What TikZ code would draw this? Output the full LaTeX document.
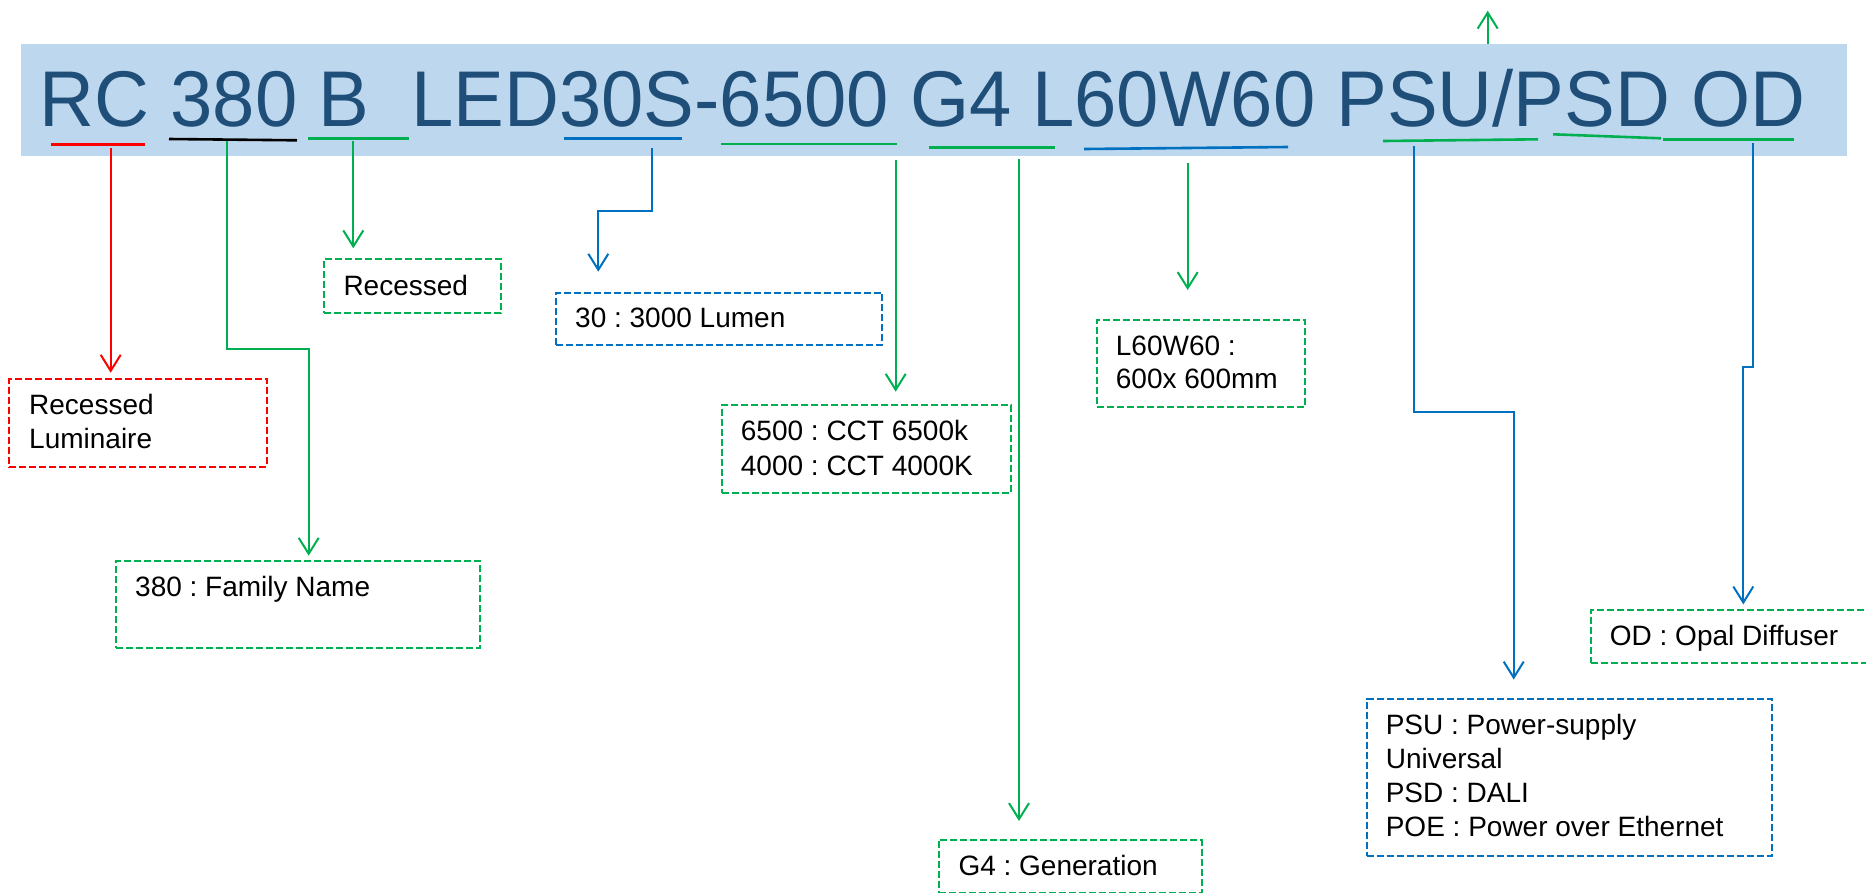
\documentclass[tikz,border=0pt]{standalone}
\usepackage{fontspec}
\usepackage{graphicx}
\setmainfont{Liberation Sans}
\usetikzlibrary{arrows.meta}
\definecolor{barfill}{HTML}{BDD7EE}
\definecolor{codeblue}{HTML}{1F4E79}
\definecolor{cgreen}{HTML}{00B050}
\definecolor{cblue}{HTML}{0070C0}
\definecolor{cred}{HTML}{FF0000}
\frenchspacing
\tikzset{
  conn/.style={line width=2pt, -{Straight Barb[length=16pt,width=20pt,line width=2pt]}},
  box/.style={draw, dash pattern=on 7pt off 3pt, line width=2pt, inner sep=0pt, anchor=north west},
  lbl/.style={anchor=base west, inner sep=0pt, font=\fontsize{28}{34}\selectfont, text=black},
  uline/.style={line width=2.6pt},
}
\begin{document}
\begin{tikzpicture}[x=1pt,y=-1pt]
\clip (0,0) rectangle (1866,892);
\fill[white] (0,0) rectangle (1866,892);

% code bar
\node[fill=barfill, inner sep=0pt, minimum width=1825.7pt, minimum height=111.7pt, anchor=north west] (bar) at (21,44) {};
\node[anchor=base west, inner sep=0pt, text=codeblue, font=\fontsize{76}{80}\selectfont] (code) at (39.7,126.7)
  {\scalebox{1}[1.04]{RC 380 B\ \ LED30S-6500 G4 L60W60 PSU/PSD OD}};

% underlines
\draw[uline, cred]   (51,144.7) -- (145,144.7);
\draw[uline, black]  (169,139) -- (297,140.3);
\draw[uline, cgreen] (308,138.3) -- (409,138.3);
\draw[uline, cblue]  (564,138.7) -- (682,138.7);
\draw[uline, cgreen] (721,144) -- (897,144);
\draw[uline, cgreen] (929,147.7) -- (1055,147.7);
\draw[uline, cblue]  (1084,149) -- (1288,147);
\draw[uline, cgreen] (1383,141) -- (1538,139.3);
\draw[uline, cgreen] (1553,134.3) -- (1661,138.3);
\draw[uline, cgreen] (1663,139.3) -- (1794,139.3);

% boxes
\node[box, cred,   minimum width=257.7pt, minimum height=87.4pt] (bRL)  at (8.3,378.3) {};
\node[box, cgreen, minimum width=364pt,   minimum height=87.3pt] (bFam) at (115,560) {};
\node[box, cgreen, minimum width=177pt,   minimum height=54pt]   (bRec) at (323,257.7) {};
\node[box, cblue,  minimum width=326pt,   minimum height=52.6pt] (bLum) at (555,291.7) {};
\node[box, cgreen, minimum width=289.3pt, minimum height=87.4pt] (bCCT) at (721,404.3) {};
\node[box, cgreen, minimum width=208pt,   minimum height=87pt]   (bL60) at (1096,319) {};
\node[box, cgreen, minimum width=263pt,   minimum height=52.6pt] (bG4)  at (937.7,839) {};
\node[box, cblue,  minimum width=405.3pt, minimum height=156.3pt] (bPSU) at (1365.7,698.2) {};
\node[box, cgreen, minimum width=300pt,   minimum height=53pt]   (bOD)  at (1589.9,609) {};

% box texts
\node[lbl] (tRL1) at (29,414.3) {Recessed};
\node[lbl] (tRL2) at (29,448.3) {Luminaire};
\node[lbl] (tFam) at (135,596) {380 : Family Name};
\node[lbl] (tRec) at (343.3,295) {Recessed};
\node[lbl] (tLum) at (575,327.3) {30 : 3000 Lumen};
\node[lbl] (tCCT1) at (740.7,440.7) {6500 : CCT 6500k};
\node[lbl] (tCCT2) at (740.7,475) {4000 : CCT 4000K};
\node[lbl] (tL601) at (1115.7,355) {L60W60 :};
\node[lbl] (tL602) at (1115.7,388.3) {600x 600mm};
\node[lbl] (tG4) at (958.3,875) {G4 : Generation};
\node[lbl] (tPSU1) at (1385.6,734.3) {PSU : Power-supply};
\node[lbl] (tPSU2) at (1385.6,768.6) {Universal};
\node[lbl] (tPSU3) at (1385.6,802.2) {PSD : DALI};
\node[lbl] (tPSU4) at (1385.6,836.5) {POE : Power over Ethernet};
\node[lbl] (tOD) at (1609.7,645.9) {OD : Opal Diffuser};

% connector start points and bends
\coordinate (sRC)  at (110.7,148.3);
\coordinate (s380) at (227.3,140.7);
\coordinate (k380) at (308.7,349);
\coordinate (sB)   at (353.3,141.3);
\coordinate (s30)  at (652.3,148.3);
\coordinate (k30)  at (598.3,210.7);
\coordinate (s65)  at (895.7,160);
\coordinate (sG4)  at (1019,159);
\coordinate (sL60) at (1187.7,162.7);
\coordinate (sPSU) at (1413.5,146);
\coordinate (kPSU) at (1513.7,412.3);
\coordinate (sOD)  at (1753,143.3);
\coordinate (kOD)  at (1743.3,367.2);
\coordinate (upEnd) at (1487.7,10.7);

% connectors
\draw[conn, cred]   (sRC) -- ([yshift=5.6pt]sRC |- bRL.north);
\draw[conn, cgreen] (s380) |- (k380) -- ([yshift=4.3pt]k380 |- bFam.north);
\draw[conn, cgreen] (sB) -- ([yshift=9.4pt]sB |- bRec.north);
\draw[conn, cblue]  (s30) |- (k30) -- ([yshift=20pt]k30 |- bLum.north);
\draw[conn, cgreen] (s65) -- ([yshift=12.6pt]s65 |- bCCT.north);
\draw[conn, cgreen] (sG4) -- ([yshift=18pt]sG4 |- bG4.north);
\draw[conn, cgreen] (sL60) -- ([yshift=29pt]sL60 |- bL60.north);
\draw[conn, cblue]  (sPSU) |- (kPSU) -- ([yshift=18.7pt]kPSU |- bPSU.north);
\draw[conn, cblue]  (sOD) |- (kOD) -- ([yshift=4.6pt]kOD |- bOD.north);
\draw[conn, cgreen] (upEnd |- bar.north) -- (upEnd);
\end{tikzpicture}
\end{document}
